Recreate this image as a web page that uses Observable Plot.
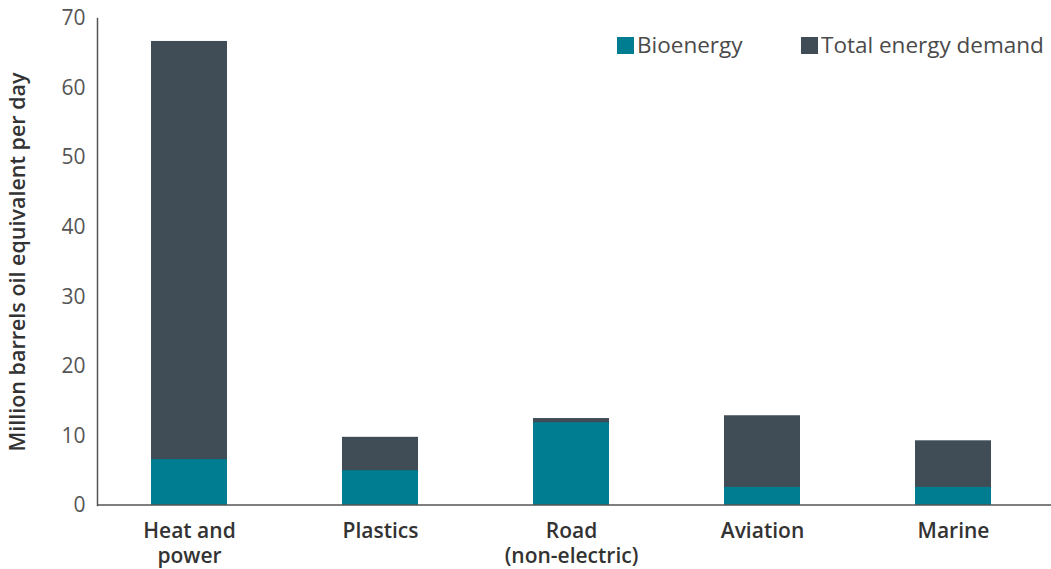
<!DOCTYPE html>
<html><head><meta charset="utf-8">
<script src="https://cdn.jsdelivr.net/npm/d3@7"></script>
<script src="https://cdn.jsdelivr.net/npm/@observablehq/plot@0.6"></script>
<style>
body{margin:0;background:#fff;font-family:"Open Sans",sans-serif}
#wrap{position:relative;width:1051px;height:569px}
.item{position:absolute;top:32px;display:flex;align-items:center;font-size:22.5px;color:#4a4a4a;line-height:26px}
.sw{width:17px;height:17px;margin-right:3px}
</style></head>
<body><div id="wrap"></div>
<script>
const categories = ["Heat and power", "Plastics", "Road (non-electric)", "Aviation", "Marine"];
const tickLabels = ["Heat and\npower", "Plastics", "Road\n(non-electric)", "Aviation", "Marine"];
const bioenergy = [6.6, 5.0, 11.9, 2.6, 2.6];
const totalDemand = [66.7, 9.8, 12.5, 12.9, 9.3];
const seriesNames = ["Bioenergy", "Total energy demand"];
const colors = ["#007d90", "#414d56"];
const yTicks = [0, 10, 20, 30, 40, 50, 60, 70];

const data = categories.map((c, i) => ({cat: c, bio: bioenergy[i], total: totalDemand[i]}));

const chart = Plot.plot({
  width: 1051, height: 569,
  marginLeft: 97, marginRight: 6, marginTop: 18, marginBottom: 64,
  style: {fontFamily: "Open Sans", fontSize: "21px", color: "#555", background: "#fff"},
  x: {domain: categories, paddingInner: 0.6, paddingOuter: 0.27, label: null},
  y: {domain: [0, 70], label: "Million barrels oil equivalent per day"},
  marks: [
    Plot.gridY(yTicks.filter(d => d > 0), {stroke: "#bbb", strokeOpacity: 1, strokeDasharray: "1.5,3.5", x1: 97, x2: 1051}),
    Plot.barY(data, {x: "cat", y: "total", fill: colors[1]}),
    Plot.barY(data, {x: "cat", y: "bio", fill: colors[0]}),
    Plot.axisY({ticks: yTicks, tickSize: 0, tickPadding: 12, label: "Million barrels oil equivalent per day",
      labelAnchor: "center", labelArrow: "none", labelOffset: 88, fontSize: 21, fill: "#555"}),
    Plot.axisX({tickSize: 0, tickPadding: 14, tickFormat: d => tickLabels[categories.indexOf(d)],
      fontWeight: 600, fill: "#333", lineHeight: 1.22, label: null, fontSize: 21}),
    Plot.frame({anchor: "left", stroke: "#555", strokeWidth: 1.5})
  ]
});
d3.select(chart).selectAll("[aria-label='y-axis label'] text").attr("font-weight", 600).attr("fill", "#333").attr("font-size", 21.5);
// extend gridlines and baseline across full width
d3.select(chart).selectAll("[aria-label='grid-y'] line").attr("x2", 1051);
const wrap = document.getElementById("wrap");
wrap.appendChild(chart);
const y0 = chart.scale("y").apply(0);
d3.select(chart).append("line").attr("x1", 97).attr("x2", 1051).attr("y1", y0).attr("y2", y0)
  .attr("stroke", "#555").attr("stroke-width", 1.5);
const lefts = [617, 801];
seriesNames.forEach((n, i) => {
  const it = document.createElement("div");
  it.className = "item";
  it.style.left = lefts[i] + "px";
  it.innerHTML = `<span class="sw" style="background:${colors[i]}"></span>${n}`;
  wrap.appendChild(it);
});
</script></body></html>
